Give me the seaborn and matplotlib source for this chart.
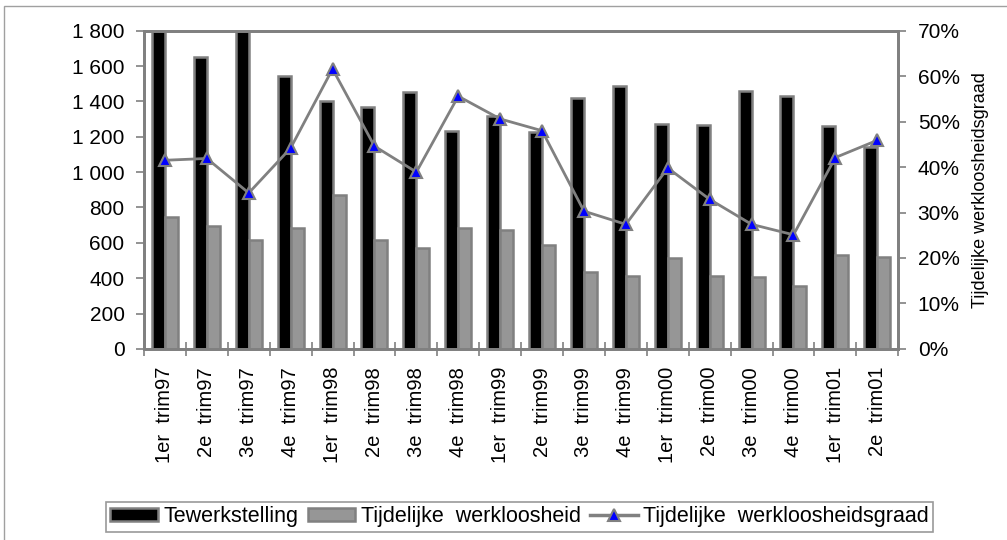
import numpy as np
import pandas as pd
import matplotlib
matplotlib.use("Agg")
import matplotlib.pyplot as plt
import seaborn as sns
from matplotlib.ticker import FuncFormatter, FixedLocator
from matplotlib.lines import Line2D
from matplotlib.patches import Patch, Rectangle

kwartalen = ["1er  trim97", "2e  trim97", "3e  trim97", "4e  trim97",
             "1er  trim98", "2e  trim98", "3e  trim98", "4e  trim98",
             "1er  trim99", "2e  trim99", "3e  trim99", "4e  trim99",
             "1er  trim00", "2e  trim00", "3e  trim00", "4e  trim00",
             "1er  trim01", "2e  trim01"]
tewerkstelling = [1800, 1650, 1800, 1545, 1405, 1370, 1455, 1230, 1320,
                  1225, 1420, 1490, 1275, 1265, 1460, 1430, 1262, 1140]
tijdelijk = [745, 697, 618, 684, 872, 618, 568, 684, 673,
             588, 437, 414, 512, 414, 405, 358, 531, 522]
graad = [41.5, 41.9, 34.3, 44.2, 61.6, 44.6, 38.9, 55.6, 50.6,
         48.0, 30.3, 27.4, 39.8, 32.9, 27.4, 25.1, 42.1, 45.9]

GRIJS = "#808080"
plt.rcParams["font.family"] = ["Liberation Sans", "DejaVu Sans"]

df = pd.DataFrame({"kwartaal": kwartalen * 2,
                   "waarde": tewerkstelling + tijdelijk,
                   "reeks": ["Tewerkstelling"] * 18 + ["Tijdelijke  werkloosheid"] * 18})

fig = plt.figure(figsize=(10.07, 5.4), dpi=100)
ax = fig.add_axes([0.143, 0.354, 0.749, 0.589])

sns.barplot(data=df, x="kwartaal", y="waarde", hue="reeks",
            palette=["#000000", "#969696"], width=0.62, dodge=True,
            edgecolor=GRIJS, linewidth=1.8, ax=ax, legend=False, errorbar=None)

ax.set_ylim(0, 1800)
ax.set_xlim(-0.5, 17.5)
ax.yaxis.set_major_locator(FixedLocator(np.arange(0, 1801, 200)))
ax.yaxis.set_major_formatter(FuncFormatter(lambda v, p: f"{int(v):,}".replace(",", " ")))
ax.set_xlabel("")
ax.set_ylabel("")
ax.set_xticks(range(18))
ax.set_xticklabels(kwartalen, rotation=90, fontsize=14.5, va="top")
ax.tick_params(axis="x", length=0, pad=13)
ax.set_xticks(np.arange(-0.5, 18, 1), minor=True)
ax.tick_params(axis="x", which="minor", length=10, color=GRIJS, width=1.2, direction="inout")
ax.tick_params(axis="y", labelsize=15, length=6, color=GRIJS, width=1.2, pad=8)
for s in ax.spines.values():
    s.set_color(GRIJS)
    s.set_linewidth(2)

ax2 = ax.twinx()
sns.lineplot(x=list(range(18)), y=graad, ax=ax2, color=GRIJS, linewidth=2,
             marker="^", markersize=9, markerfacecolor="#0000ff",
             markeredgecolor=GRIJS, markeredgewidth=1.5)
ax2.set_ylim(0, 70)
ax2.yaxis.set_major_locator(FixedLocator(np.arange(0, 71, 10)))
ax2.yaxis.set_major_formatter(FuncFormatter(lambda v, p: f"{int(v)}%"))
ax2.tick_params(axis="y", labelsize=15, length=6, color=GRIJS, width=1.2, pad=8)
ax2.set_ylabel("Tijdelijke werkloosheidsgraad", fontsize=13, labelpad=9)
for s in ax2.spines.values():
    s.set_color(GRIJS)
    s.set_linewidth(2)

handles = [Patch(facecolor="#000000", edgecolor=GRIJS, linewidth=1.8),
           Patch(facecolor="#969696", edgecolor=GRIJS, linewidth=1.8),
           Line2D([0], [0], color=GRIJS, linewidth=2.5, marker="^", markersize=9,
                  markerfacecolor="#0000ff", markeredgecolor=GRIJS, markeredgewidth=1.5)]
labels = ["Tewerkstelling", "Tijdelijke  werkloosheid", "Tijdelijke  werkloosheidsgraad"]
leg = fig.legend(handles, labels, loc="center", bbox_to_anchor=(0.516, 0.043), ncol=3,
                 fontsize=15.5, frameon=True, fancybox=False, handlelength=2.2,
                 handleheight=0.55, handletextpad=0.25, columnspacing=0.45,
                 borderpad=0.2, borderaxespad=0)
leg.get_frame().set_edgecolor(GRIJS)
leg.get_frame().set_linewidth(1.2)

fig.patches.append(Rectangle((0.004, -0.1), 1.1, 1.088, transform=fig.transFigure,
                             fill=False, edgecolor="#a0a0a0", linewidth=1))

fig.savefig("out.png", dpi=100)
